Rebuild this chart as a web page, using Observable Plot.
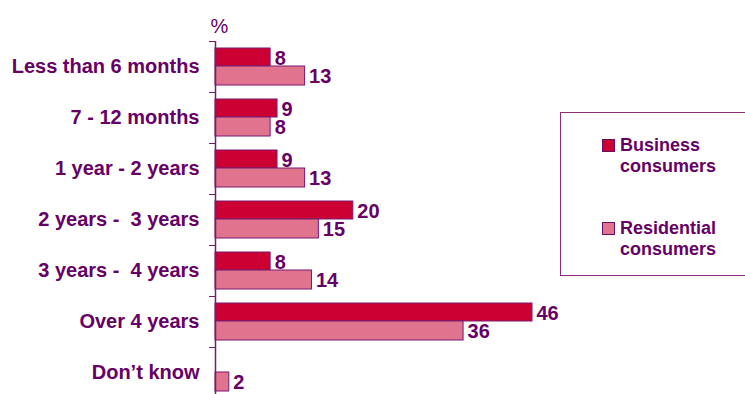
<!DOCTYPE html>
<html>
<head>
<meta charset="utf-8">
<script src="https://cdn.jsdelivr.net/npm/d3@7"></script>
<script src="https://cdn.jsdelivr.net/npm/@observablehq/plot@0.6"></script>
<style>
  html, body { margin: 0; padding: 0; background: #fff; }
  #wrap { position: relative; width: 745px; height: 394px; overflow: hidden; font-family: "Liberation Sans", Arial, sans-serif; }
  #wrap svg text { white-space: pre; }
  #legend { position: absolute; left: 560px; top: 112px; width: 190px; height: 164px; border: 1.5px solid #8B2A80; box-sizing: border-box; }
  .item { position: absolute; left: 41px; font: bold 18px "Liberation Sans", Arial, sans-serif; color: #660066; line-height: 21px; }
  .sw { position: absolute; left: 0; width: 11px; height: 11px; border: 1px solid #6B1060; }
  .lab { position: absolute; left: 18px; top: 0; white-space: nowrap; }
</style>
</head>
<body>
<div id="wrap">
  <div id="chart"></div>
  <div id="legend"></div>
</div>
<script>
const categories = ["Less than 6 months", "7 - 12 months", "1 year - 2 years", "2 years -  3 years", "3 years -  4 years", "Over 4 years", "Don\u2019t know"];
const business = [8, 9, 9, 20, 8, 46, null];
const residential = [13, 8, 13, 15, 14, 36, 2];
const seriesNames = [["Business", "consumers"], ["Residential", "consumers"]];
const colors = ["#CC0033", "#E0738D"];
const textColor = "#660066";
const strokeColor = "#7A1A6E";

const busRows = categories.map((c, i) => ({cat: c, i, value: business[i]})).filter(d => d.value != null);
const resRows = categories.map((c, i) => ({cat: c, i, value: residential[i]})).filter(d => d.value != null);

const chart = Plot.plot({
  width: 745,
  height: 394,
  marginLeft: 215,
  marginRight: 213,
  marginTop: 41,
  marginBottom: -4,
  style: {fontFamily: "'Liberation Sans', Arial, sans-serif", fontWeight: "bold", fontSize: "20px", color: textColor, background: "transparent"},
  x: {domain: [0, 46], axis: null},
  y: {domain: [0, categories.length], reverse: true, axis: null},
  marks: [
    Plot.rectX(busRows, {x1: 0, x2: "value", y1: "i", y2: d => d.i + 1, insetTop: 7, insetBottom: 26, fill: colors[0], stroke: strokeColor, strokeWidth: 1}),
    Plot.rectX(resRows, {x1: 0, x2: "value", y1: "i", y2: d => d.i + 1, insetTop: 25, insetBottom: 7, fill: colors[1], stroke: strokeColor, strokeWidth: 1}),
    Plot.text(busRows, {x: "value", y: d => d.i + 0.5, text: d => String(d.value), dx: 4, dy: -8, textAnchor: "start", fill: textColor, fontSize: 20, fontWeight: "bold"}),
    Plot.text(resRows, {x: "value", y: d => d.i + 0.5, text: d => String(d.value), dx: 4, dy: 10, textAnchor: "start", fill: textColor, fontSize: 20, fontWeight: "bold"}),
    Plot.axisY({ticks: d3.range(categories.length + 1), tickFormat: () => "", tickSize: 6, stroke: strokeColor, anchor: "left", label: null}),
    Plot.axisY({ticks: categories.map((_, i) => i + 0.5), tickFormat: v => categories[Math.floor(v)], tickSize: 0, tickPadding: 16, anchor: "left", fill: textColor, fontSize: 20, fontWeight: "bold", label: null}),
    Plot.ruleX([0], {stroke: strokeColor, strokeWidth: 1.5}),
    Plot.text(["%"], {frameAnchor: "top-left", text: d => d, dx: 4, dy: -23, textAnchor: "middle", fill: textColor, fontSize: 20, fontWeight: "normal"})
  ]
});
document.getElementById("chart").appendChild(chart);

const legend = document.getElementById("legend");
const tops = [22, 105];
seriesNames.forEach((lines, k) => {
  const item = document.createElement("div");
  item.className = "item";
  item.style.top = tops[k] + "px";
  const sw = document.createElement("div");
  sw.className = "sw";
  sw.style.background = colors[k];
  sw.style.top = "4px";
  item.appendChild(sw);
  const lab = document.createElement("div");
  lab.className = "lab";
  lab.innerHTML = lines.join("<br>");
  item.appendChild(lab);
  legend.appendChild(item);
});
</script>
</body>
</html>
